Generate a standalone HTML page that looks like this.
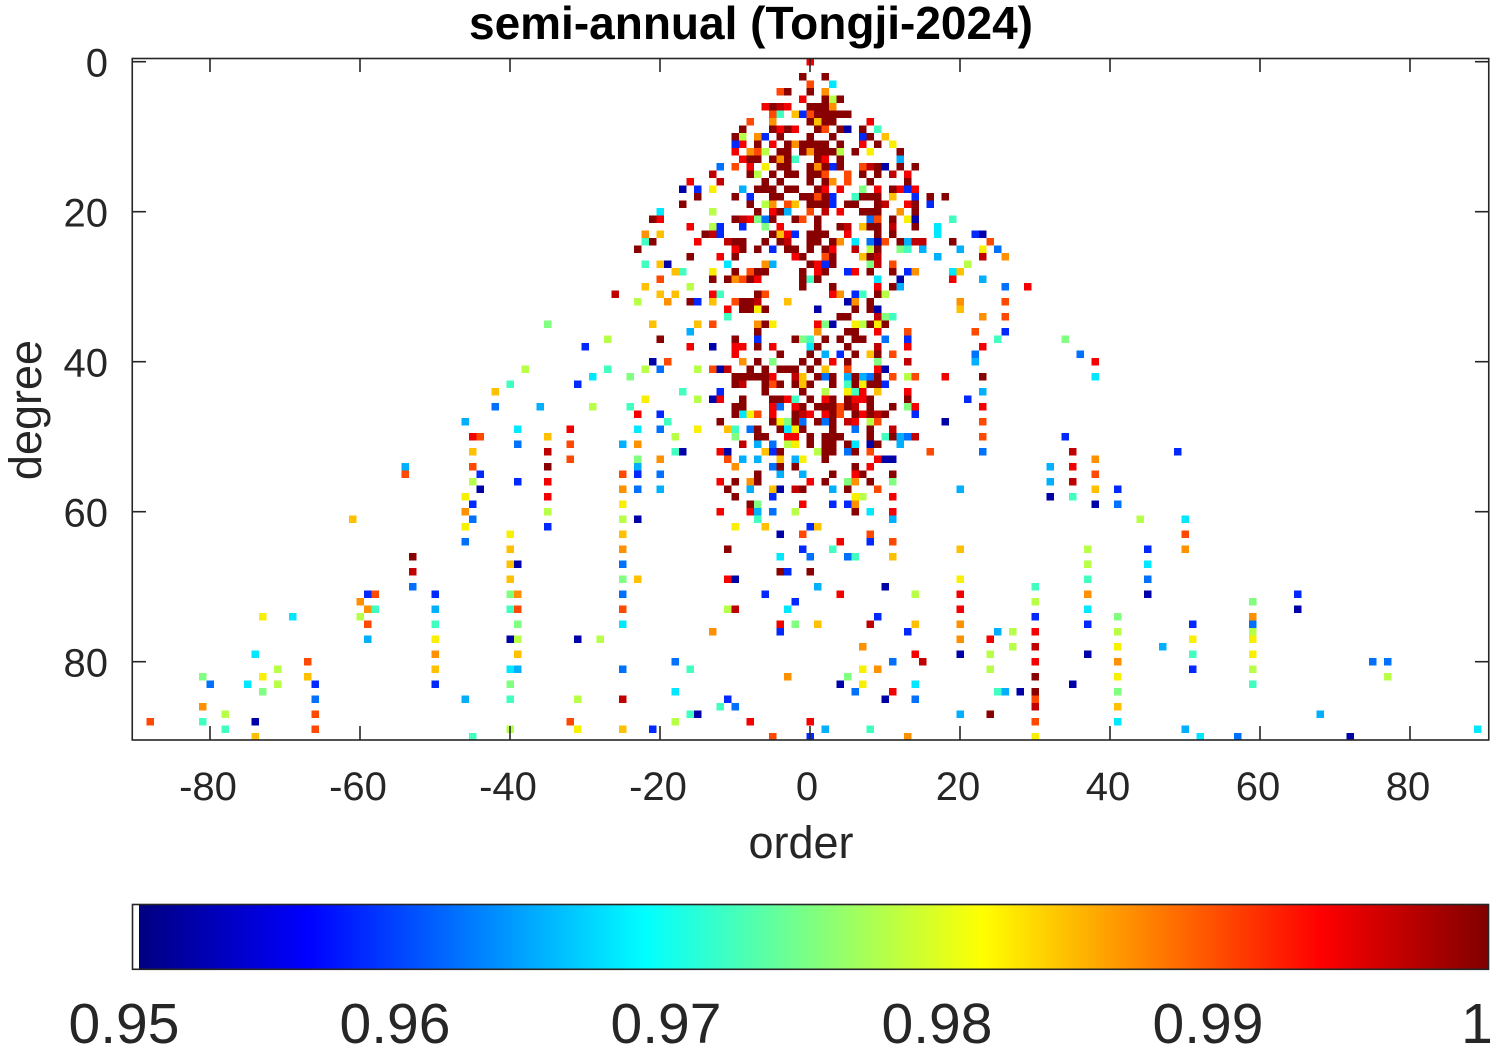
<!DOCTYPE html>
<html>
<head>
<meta charset="utf-8">
<style>
  html,body{margin:0;padding:0;background:#fff;}
  svg{display:block;}
  text{font-family:"Liberation Sans",Arial,Helvetica,sans-serif;fill:#262626;}
</style>
</head>
<body>
<svg id="s" width="1504" height="1050" viewBox="0 0 1504 1050">
  <defs>
    <linearGradient id="jet" x1="0" y1="0" x2="1" y2="0">
      <stop offset="0" stop-color="#000080"/>
      <stop offset="0.125" stop-color="#0000ff"/>
      <stop offset="0.375" stop-color="#00ffff"/>
      <stop offset="0.625" stop-color="#ffff00"/>
      <stop offset="0.875" stop-color="#ff0000"/>
      <stop offset="1" stop-color="#800000"/>
    </linearGradient>
  </defs>
  <rect x="0" y="0" width="1504" height="1050" fill="#fff"/>
  <g id="cells" shape-rendering="crispEdges"></g>

  <!-- axes box -->
  <rect x="132.25" y="58.5" width="1356.5" height="681.5" fill="none" stroke="#262626" stroke-width="1.6"/>
  <g stroke="#262626" stroke-width="1.6">
    <line x1="210" y1="740" x2="210" y2="726"/><line x1="210" y1="58" x2="210" y2="72"/>
    <line x1="360" y1="740" x2="360" y2="726"/><line x1="360" y1="58" x2="360" y2="72"/>
    <line x1="510" y1="740" x2="510" y2="726"/><line x1="510" y1="58" x2="510" y2="72"/>
    <line x1="660" y1="740" x2="660" y2="726"/><line x1="660" y1="58" x2="660" y2="72"/>
    <line x1="810" y1="740" x2="810" y2="726"/><line x1="810" y1="58" x2="810" y2="72"/>
    <line x1="960" y1="740" x2="960" y2="726"/><line x1="960" y1="58" x2="960" y2="72"/>
    <line x1="1110" y1="740" x2="1110" y2="726"/><line x1="1110" y1="58" x2="1110" y2="72"/>
    <line x1="1260" y1="740" x2="1260" y2="726"/><line x1="1260" y1="58" x2="1260" y2="72"/>
    <line x1="1410" y1="740" x2="1410" y2="726"/><line x1="1410" y1="58" x2="1410" y2="72"/>
    <line x1="132" y1="61.7" x2="146" y2="61.7"/><line x1="1489" y1="61.7" x2="1475" y2="61.7"/>
    <line x1="132" y1="211.7" x2="146" y2="211.7"/><line x1="1489" y1="211.7" x2="1475" y2="211.7"/>
    <line x1="132" y1="361.7" x2="146" y2="361.7"/><line x1="1489" y1="361.7" x2="1475" y2="361.7"/>
    <line x1="132" y1="511.7" x2="146" y2="511.7"/><line x1="1489" y1="511.7" x2="1475" y2="511.7"/>
    <line x1="132" y1="661.7" x2="146" y2="661.7"/><line x1="1489" y1="661.7" x2="1475" y2="661.7"/>
  </g>

  <g font-size="40" text-anchor="middle">
    <text x="208" y="800">-80</text>
    <text x="358" y="800">-60</text>
    <text x="508" y="800">-40</text>
    <text x="658" y="800">-20</text>
    <text x="807" y="800">0</text>
    <text x="958" y="800">20</text>
    <text x="1108" y="800">40</text>
    <text x="1258" y="800">60</text>
    <text x="1408" y="800">80</text>
  </g>
  <g font-size="40" text-anchor="end">
    <text x="108" y="76.7">0</text>
    <text x="108" y="226.7">20</text>
    <text x="108" y="376.7">40</text>
    <text x="108" y="526.7">60</text>
    <text x="108" y="676.7">80</text>
  </g>

  <text x="801" y="858" font-size="45" text-anchor="middle">order</text>
  <text transform="translate(41,410) rotate(-90)" font-size="45" text-anchor="middle">degree</text>

  <text x="751" y="39" font-size="46" font-weight="bold" text-anchor="middle" style="fill:#000">semi-annual (Tongji-2024)</text>

  <rect x="133" y="905" width="6" height="64" fill="#ffffff"/>
  <rect x="139" y="905" width="1349.5" height="64" fill="url(#jet)"/>
  <rect x="132.5" y="904.5" width="1356" height="64.8" fill="none" stroke="#262626" stroke-width="1.6"/>
  <g font-size="57" text-anchor="middle">
    <text x="124" y="1043">0.95</text>
    <text x="395" y="1043">0.96</text>
    <text x="666" y="1043">0.97</text>
    <text x="937" y="1043">0.98</text>
    <text x="1208" y="1043">0.99</text>
    <text x="1477" y="1043">1</text>
  </g>
</svg>
<script>
(function(){
var C={D:'#880000',E:'#c00000',r:'#f40000',R:'#ff4800',o:'#ff9000',Y:'#ffc000',y:'#f8f000',G:'#b8ff48',g:'#80ff80',a:'#40ffc0',c:'#00e8ff',l:'#00b0ff',z:'#0070ff',b:'#0028ff',B:'#0000a8'};
var rows=[
"0r",
"",
"-1D 2D",
"0R 3c",
"-4R -3D 0D 2o",
"-1r 2D 3G 4D",
"-6r -5D -4E -3r 0D 1D 2D 3o",
"-5R -4a -2Y -1b 0R 1D 2D 3D 4D 5D",
"-8R -5o 0D 1Y 2D 3D 8r",
"-9D -5D -4r -3D -2r 1D 2R 4D 5B 7D 9a",
"-10D -9G -7o -6b -4D 0D 3D 7b 8D 10Y",
"-10b -9r -7D -5r -3D -2o -1D 0D 1D 2D 4D 7r 9D 11y",
"-10r -8o -7R -6G -4D -3D -1D 0o 1D 2D 3D 4G 6D 8y 12D",
"-9r -8D -7D -5D -4o -3D -2a 1D 2r 4D 12l",
"-12z -10R -8r -6y -4D -3D 0D 1o 2D 3b 4D 7R 8E 9D 10B 12D 14D",
"-13E -8D -7G -5D -3D -2D 0D 1D 2R 5R 7D 9D 11E 13r",
"-16r -12E -6D -4D 0D 2D 3o 5R 8D 13D",
"-17B -15b -13y -9l -7D -6D -5D -3D -2D 1D 2r 4r 7g 9r 11D 12r 13b 14r",
"-15D -10D -8b -5D -4D -1D 0D 1R 2D 3b 6a 7D 8D 9D 11Y 14b 16D 18D",
"-17D -8D -6G -5o -3R -2Y 0D 1D 2D 3b 5D 6D 9D 10E 13r 14D 16b",
"-20c -13G -7D -5r -4D -3l 0R 2E 4r 7D 8D 9D 12o 14D",
"-21D -20r -10D -9E -8r -7g -6z -5D -2D -1R 1D 8z 9R 11D 13y 14B 19a",
"-16r -13G -12b -9b -6g -4r 1D 4D 5E 7Y 8D 9D 11E 14D 17c",
"-22o -20Y -14D -13E -12b -5D -4Y -3r -2b 0D 1D 2D 5r 9D 11D 17c 22b 23B",
"-22a -21D -15r -11E -10D -9D -6D -4D -3E 0D 1D 3D 4o 6c 8z 9B 10R 12D 13l 14E 15E 19D 24R",
"-23D -10r -9D -7D -5b -3D -2D 0D 2D 3r 6E 8G 9D 12g 13a 15l 20l 23y 25z",
"-16D -12r -10D -2r -1D 2R 3D 7Y 8D 9E 17l 23E 26o",
"-22a -20Y -19B -11c -6o -5l 0D 1r 2b 3D 8g 9E 11R 21G",
"-18Y -17a -13y -10D -8R -7D -6D -1D 1r 2D 5b 6r 8D 11D 13b 14o 19c 20Y",
"-20R -13D -11D -10o -9R -8D -7r -1D 0a 1D 9c 12B 19r 23l",
"-22Y -16G -1D 3D 9r 11D 12l 26z 29r",
"-26E -20Y -18Y -13r -12a -7D -6R 3r 4o 6b 7a 9D 10G",
"-23G -19o -16D -15b -13Y -10R -9D -8D -7E -3Y 5B 6o 8D 20o 26R",
"-11r -9D -8D -7y -6D 1B 6D 8D 9B 20Y",
"-11a 4D 5D 9E 10g 11a 23o 26R",
"-35g -21Y -15Y -13R -7o -6D -5y 1r 2g 3B 6y 7G 8D 9y 10D",
"-16l -7D 1o 5D 6D 9r 13R 22R 26b",
"-27G -20D -10D -7b -2D -1g 0a 2D 4D 6D 7D 10z 13b 25a 34g",
"-30b -16r -13B -10r -9r -7D -5r 0c 1D 5D 9E 13r 23r",
"-10r -4D 0D 2l 4b 6D 8Y 9D 11R 22z 36z",
"-21B -19R -9o -7D -5g -1D 1D 3r 5D 9g 13E 22l 38r",
"-38G -27a -22G -20z -15G -13R -12B -11E -8D -6D -4D -3D -2D 0D 2Y 5R 9r 10B",
"-29c -24g -10D -9D -8D -7D -6D -5r -2E -1Y 1D 2z 3D 5l 6D 7l 8z 9D 11R 13G 14R 18r 23D 38c",
"-40a -31b -10D -9E -6D -5R -4D -2D -1Y 0D 3D 5a 6D 7y 8D 9D 10b",
"-42Y -17a -12b -6D -1D 2G 5y 6a 7r 9Y 13r 23l",
"-22y -15G -13B -12r -9D -5D -4D -3r -2a 0D 2r 3D 5D 6r 7r 8D 13D 21b",
"-42z -36l -29G -24a -10D -9D -5r -4z -2r -1D 1D 2D 3D 4R 5D 6E 8D 11D 13g 14r 23r",
"-23r -20b -10D -9c -8y -7R -5r -2D -1E 0r 2r 3D 4R 6D 7r 8D 9E 10D 14b",
"-46l -19a -12D -5D -4y -3g -2D -1z 1D 2z 3D 5E 6r 8G 9R 18B 23R",
"-39c -32r -23c -20z -15y -11Y -10a -8z -7D -4D -3c -2y -1D 3D 6z 8D 11E",
"-45r -44R -35Y -18G -10g -7D -6D -3r -2r 0D 2D 3D 4D 8D 10a 11D 12l 13z 14E 23R 34b",
"-39z -32R -25l -23o -9E -7l -5z -3G -2y 0D 2D 3D 5D 6c 8B 9D 12l",
"-45Y -35E -18a -17B -12r -11B -6Y -5b -4D 1G 2D 3D 5z 6D 8R 16R 23z 35E 49b",
"-32R -23g -20o -11R -9l -7l -4Y -2l -1y 2D 9r 10B 11B 38o",
"-54l -45R -35D -23l -10o -5z -4D -2D 6D 8r 32l 35r",
"-54R -44b -25R -23b -20z -7D -4l -1l 3D 6r 7D 11D 38R",
"-45G -39b -35r -12r -10D -8o -7D 0r 2D 5g 6o 8D 11g 32l 35E",
"-44B -25o -23z -20l -11D -8l -5Y -4B -2E -1D 3l 5D 9R 20l 38Y 41b",
"-46y -35r -10D -5b 6y 7G 11r 32B 35a",
"-45b -25y -8D -7g -1r 3b 5b 6o 38B 41z",
"-46o -35G -12r -8r -7l -5z -2G 6D 8c 11r",
"-61Y -45z -25G -23B -7a 11l 44G 50c",
"-46y -35b -10y -6Y 0b 1Y",
"-40y -25Y -4B -1R 8R 50R",
"-46z 4r 8b 11R",
"-40Y -25o -11D -1b 3a 20Y 37G 45b 50o",
"-53D -4c 0z 5z 6a 11Y",
"-40Y -39B -25z 37G 45c",
"-53E -4D -3b 0D",
"-40Y -25g -23Y -11r -10B 20y 37a 45z",
"-53z 1l 10B 30a",
"-59b -58R -50b -40g -39o -25z -6b 4r 14G 20r 37o 45B 65b",
"-60o -2b 30G 59g",
"-59o -58a -50l -40a -39R -25R -11G -10E -3c 20r 37c 65B",
"-73y -69c -60G 9b 30b 41g 59o",
"-59R -50a -39g -25c -4r -2g 1Y 8E 14Y 20o 37b 51b 59z",
"-13o -4b 13b 25l 27G 30r 41G 59G",
"-59l -50y -40B -39G -31B -28G 20o 24r 51y 59y",
"7o 27G 30E 41y 47l",
"-74c -50o -39Y 14r 20B 24G 37B 51a 59y",
"-67R -18z 11z 15E 30r 41o 75z 77z",
"-71G -50Y -40c -39l -25z -16a 7y 9o 24G 51b 59G",
"-81g -73y -67Y -3o 5g 30D 41y 77G",
"-80z -75c -71G -66b -50b -40g 4B 7y 14c 35B 59a",
"-73g -18c 6z 11r 25a 26l 28B 30D 41g",
"-66z -46l -40a -31G -25E -11b 10B 14z 30R",
"-81o -12a -10z 30E 41Y",
"-78G -66R -16a -15B 20l 24D 68l",
"-88R -81a -74B -32R -18G -8r 0r 30R 41c",
"-78a -66R -40G -31y -25Y -21b 2l 8a 50l 89c",
"-74Y -45a -5R 0b 13o 30y 52c 57z 72B"
];
var g=document.getElementById('cells');
var NS=g.namespaceURI;
for(var n=0;n<rows.length;n++){
  var s=rows[n]; if(!s) continue;
  var toks=s.split(' ');
  for(var i=0;i<toks.length;i++){
    var t=toks[i]; if(!t) continue;
    var mm=t.match(/^(-?\d+)([A-Za-z])$/); if(!mm) continue;
    var m=parseInt(mm[1],10), col=C[mm[2]];
    var r=document.createElementNS(NS,'rect');
    r.setAttribute('x',(806.25+7.5*m).toFixed(2));
    r.setAttribute('y',(57.95+7.5*n).toFixed(2));
    r.setAttribute('width','7.5');
    r.setAttribute('height','7.5');
    r.setAttribute('fill',col);
    g.appendChild(r);
  }
}
})();
</script>
</body>
</html>
